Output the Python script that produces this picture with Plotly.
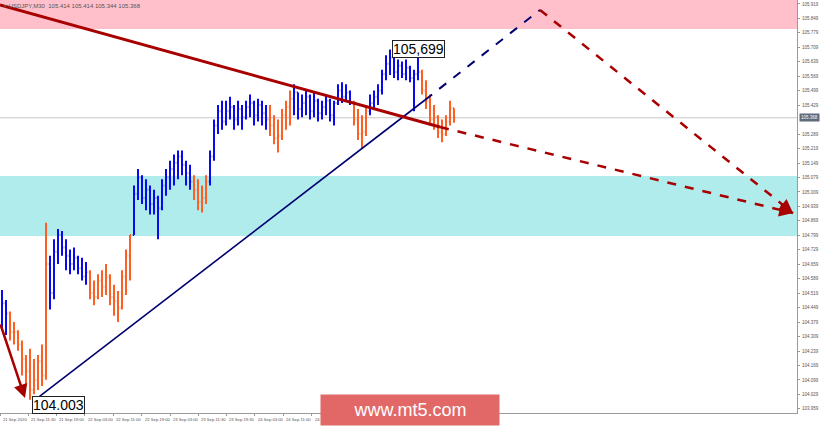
import plotly.graph_objects as go

# ---------------- data (USDJPY, M30) ----------------
opens = [
    104.36, 104.47, 104.42, 104.33, 104.33, 104.27, 104.20, 104.14, 104.05, 104.10,
    104.19, 104.12, 104.66, 104.52, 104.72, 104.80, 104.74, 104.70, 104.66, 104.69,
    104.64, 104.60, 104.62, 104.52, 104.50, 104.58, 104.55, 104.60, 104.50, 104.48,
    104.45, 104.60, 104.70, 104.80, 105.00, 105.08, 104.98, 105.02, 104.95, 104.98,
    104.93, 105.04, 105.08, 105.12, 105.15, 105.18, 105.14, 105.10, 105.06, 105.02,
    104.96, 104.98, 105.06, 105.18, 105.33, 105.40, 105.35, 105.40, 105.42, 105.36,
    105.41, 105.37, 105.42, 105.44, 105.38, 105.43, 105.39, 105.36, 105.33, 105.27,
    105.28, 105.38, 105.42, 105.46, 105.49, 105.41, 105.44, 105.47, 105.40, 105.45,
    105.39, 105.42, 105.45, 105.38, 105.44, 105.50, 105.47, 105.49, 105.44, 105.36,
    105.29, 105.30, 105.40, 105.44, 105.47, 105.50, 105.58, 105.63, 105.66, 105.59,
    105.62, 105.58, 105.61, 105.56, 105.58, 105.59, 105.50, 105.45, 105.36, 105.37,
    105.30, 105.29, 105.35, 105.414,
]
highs = [
    104.534, 104.486, 104.430, 104.380, 104.340, 104.290, 104.220, 104.250, 104.200, 104.220,
    104.270, 104.860, 104.700, 104.780, 104.830, 104.820, 104.780, 104.730, 104.740, 104.700,
    104.690, 104.670, 104.630, 104.580, 104.610, 104.630, 104.660, 104.610, 104.560, 104.530,
    104.630, 104.730, 104.800, 105.040, 105.120, 105.090, 105.070, 105.040, 105.020, 104.990,
    105.070, 105.120, 105.160, 105.190, 105.210, 105.210, 105.160, 105.140, 105.090, 105.070,
    105.040, 105.090, 105.210, 105.360, 105.430, 105.450, 105.450, 105.470, 105.430, 105.450,
    105.430, 105.450, 105.480, 105.450, 105.460, 105.450, 105.430, 105.430, 105.380, 105.360,
    105.410, 105.450, 105.500, 105.530, 105.490, 105.480, 105.500, 105.480, 105.490, 105.460,
    105.450, 105.480, 105.460, 105.450, 105.530, 105.540, 105.530, 105.500, 105.450, 105.410,
    105.380, 105.430, 105.480, 105.500, 105.530, 105.600, 105.670, 105.699, 105.670, 105.650,
    105.640, 105.650, 105.620, 105.600, 105.690, 105.600, 105.550, 105.480, 105.430, 105.380,
    105.360, 105.380, 105.450, 105.414,
]
lows = [
    104.341, 104.316, 104.290, 104.270, 104.240, 104.120, 104.070, 104.003, 104.030, 104.050,
    104.070, 104.100, 104.440, 104.490, 104.660, 104.700, 104.630, 104.610, 104.630, 104.610,
    104.580, 104.560, 104.490, 104.460, 104.490, 104.500, 104.510, 104.460, 104.410, 104.380,
    104.440, 104.510, 104.580, 104.800, 104.970, 104.950, 104.920, 104.900, 104.900, 104.780,
    104.920, 104.990, 105.020, 105.040, 105.070, 105.090, 105.040, 105.020, 104.970, 104.920,
    104.910, 104.950, 105.040, 105.160, 105.290, 105.310, 105.330, 105.360, 105.310, 105.330,
    105.310, 105.360, 105.370, 105.330, 105.350, 105.330, 105.310, 105.280, 105.240, 105.200,
    105.260, 105.310, 105.330, 105.380, 105.360, 105.370, 105.380, 105.360, 105.370, 105.350,
    105.360, 105.380, 105.350, 105.330, 105.430, 105.440, 105.450, 105.430, 105.330, 105.260,
    105.220, 105.280, 105.380, 105.410, 105.430, 105.480, 105.550, 105.575, 105.560, 105.550,
    105.560, 105.550, 105.540, 105.400, 105.550, 105.480, 105.410, 105.330, 105.310, 105.270,
    105.250, 105.280, 105.330, 105.344,
]
closes = [
    104.47, 104.42, 104.33, 104.33, 104.27, 104.20, 104.14, 104.05, 104.10, 104.19,
    104.12, 104.66, 104.52, 104.72, 104.80, 104.74, 104.70, 104.66, 104.69, 104.64,
    104.60, 104.62, 104.52, 104.50, 104.58, 104.55, 104.60, 104.50, 104.48, 104.45,
    104.60, 104.70, 104.80, 105.00, 105.08, 104.98, 105.02, 104.95, 104.98, 104.93,
    105.04, 105.08, 105.12, 105.15, 105.18, 105.14, 105.10, 105.06, 105.02, 104.96,
    104.98, 105.06, 105.18, 105.33, 105.40, 105.35, 105.40, 105.42, 105.36, 105.41,
    105.37, 105.42, 105.44, 105.38, 105.43, 105.39, 105.36, 105.33, 105.27, 105.28,
    105.38, 105.42, 105.46, 105.49, 105.41, 105.44, 105.47, 105.40, 105.45, 105.39,
    105.42, 105.45, 105.38, 105.44, 105.50, 105.47, 105.49, 105.44, 105.36, 105.29,
    105.30, 105.40, 105.44, 105.47, 105.50, 105.58, 105.63, 105.66, 105.59, 105.62,
    105.58, 105.61, 105.56, 105.58, 105.59, 105.50, 105.45, 105.36, 105.37, 105.30,
    105.29, 105.35, 105.414, 105.368,
]
# wave direction of consecutive bar groups: (direction, number of bars)
wave_groups = [("up", 2), ("down", 10), ("up", 10), ("down", 11), ("up", 15), ("down", 4),
               ("up", 15), ("down", 6), ("up", 15), ("down", 4), ("up", 13), ("down", 9)]

time_labels = ["21 Sep 2020", "21 Sep 11:30", "21 Sep 19:00", "22 Sep 03:00", "22 Sep 11:00",
               "22 Sep 19:00", "23 Sep 03:00", "23 Sep 11:30", "23 Sep 19:30", "24 Sep 03:00",
               "24 Sep 11:00", "24 S"]
time_label_bars = [-0.5, 6.6, 13.6, 20.7, 27.8, 34.9, 42.0, 49.0, 56.1, 63.2, 70.3, 77.4]

# scale labels (105.359 sits under the current-price tag and is not visible)
price_labels = ["105.919", "105.849", "105.779", "105.709", "105.639", "105.569", "105.499",
                "105.429", "105.289", "105.219", "105.149", "105.079", "105.009",
                "104.939", "104.869", "104.799", "104.729", "104.659", "104.589", "104.519",
                "104.449", "104.379", "104.309", "104.239", "104.169", "104.099", "104.029",
                "103.959"]

symbol_title = "USDJPY,M30  105.414 105.414 105.344 105.368"
current_price = 105.368
resistance_zone = (105.798, 106.2)
support_zone = (104.796, 105.086)
wave_high = ("105,699", 97.5, 105.699)
wave_low = ("104.003", 7.5, 103.978)

# analysis drawings (bar index, price)
red_trend = [(-0.5, 105.914), (109.5, 105.323)]
red_trend_forecast = [(109.5, 105.323), (197.75, 104.907)]
navy_trend = [(8.25, 104.002), (105.75, 105.454)]
navy_forecast = [(105.75, 105.454), (134.5, 105.890)]
red_forecast_2 = [(134.5, 105.890), (197.75, 104.907)]
red_first_wave = [(-0.5, 104.375), (5.75, 104.011)]

# ---------------- figure ----------------
BLUE = "#0a0af0"
ORANGE = "#ff5f22"
RED = "#a80000"
NAVY = "#000070"

fig = go.Figure()

idx = 0
for direction, n in wave_groups:
    sl = slice(idx, idx + n)
    col = BLUE if direction == "up" else ORANGE
    fig.add_trace(go.Ohlc(
        x=list(range(idx, idx + n)),
        open=opens[sl], high=highs[sl], low=lows[sl], close=closes[sl],
        increasing=dict(line=dict(color=col, width=2)),
        decreasing=dict(line=dict(color=col, width=2)),
        tickwidth=0.3, hoverinfo="skip", showlegend=False,
    ))
    idx += n

shapes = []
# zones
shapes.append(dict(type="rect", xref="paper", x0=0, x1=1, yref="y",
                   y0=resistance_zone[0], y1=resistance_zone[1],
                   fillcolor="#ffc0cb", line=dict(width=0), layer="below"))
shapes.append(dict(type="rect", xref="paper", x0=0, x1=1, yref="y",
                   y0=support_zone[0], y1=support_zone[1],
                   fillcolor="#b0ecec", line=dict(width=0), layer="below"))
shapes.append(dict(type="line", xref="paper", x0=0, x1=1, yref="y",
                   y0=current_price, y1=current_price,
                   line=dict(color="#c8c8c8", width=1), layer="below"))


def seg(pts, color, width, dash="solid"):
    (xa, ya), (xb, yb) = pts
    return dict(type="line", xref="x", yref="y", x0=xa, y0=ya, x1=xb, y1=yb,
                line=dict(color=color, width=width, dash=dash), layer="above")


shapes.append(seg(navy_trend, NAVY, 1.6))
shapes.append(seg(navy_forecast, NAVY, 2, "dash"))
shapes.append(seg(red_trend, RED, 3))
shapes.append(seg(red_trend_forecast, RED, 2.5, "dash"))
shapes.append(seg(red_forecast_2, RED, 2.5, "dash"))

annotations = []


def arrow_head(pts, color, width, frac):
    (xa, ya), (xb, yb) = pts
    return dict(x=xb, y=yb, ax=xb - (xb - xa) * frac, ay=yb - (yb - ya) * frac,
                xref="x", yref="y", axref="x", ayref="y", text="", showarrow=True,
                arrowhead=2, arrowsize=1.1, arrowwidth=width, arrowcolor=color, standoff=0)


annotations.append(arrow_head(red_first_wave, RED, 2.5, 1.0))
annotations.append(arrow_head(red_trend_forecast, RED, 2.5, 0.04))
annotations.append(arrow_head(red_forecast_2, RED, 2.5, 0.05))

# wave labels
for text, bx, py in (wave_high, wave_low):
    annotations.append(dict(x=bx, y=py, xref="x", yref="y", text=text, showarrow=False,
                            xanchor="left", yanchor="middle",
                            font=dict(family="Liberation Sans", size=14, color="black"),
                            bgcolor="white", bordercolor="#222", borderwidth=1, borderpad=0))

# time labels
for t, bx in zip(time_labels, time_label_bars):
    annotations.append(dict(x=bx, y=0, xref="x", yref="paper", text=t, showarrow=False,
                            xanchor="left", yanchor="top", xshift=1, yshift=-2,
                            font=dict(family="Liberation Sans", size=4.2, color="#555")))

# title
annotations.append(dict(x=0, y=1, xref="paper", yref="paper", xanchor="left", yanchor="top",
                        xshift=2, yshift=-1, showarrow=False,
                        text="\u25be " + symbol_title,
                        font=dict(family="Liberation Sans", size=6, color="#555")))

# current price tag
annotations.append(dict(x=1, y=current_price, xref="paper", yref="y", xanchor="left",
                        yanchor="middle", xshift=2, showarrow=False, text=f"{current_price:.3f}",
                        bgcolor="#5f6b7c", font=dict(family="Liberation Sans", size=4.5, color="white"),
                        borderpad=1))

# watermark
annotations.append(dict(x=0.5144, y=0.0073, xref="paper", yref="paper", xanchor="center",
                        yanchor="middle", showarrow=False, text="www.mt5.com",
                        width=176, height=28, bgcolor="#e26868",
                        font=dict(family="Liberation Sans", size=18, color="white")))

fig.update_layout(
    width=820, height=426,
    margin=dict(l=0, r=23, t=0, b=13, pad=0, autoexpand=False),
    paper_bgcolor="white", plot_bgcolor="white",
    shapes=shapes, annotations=annotations,
    showlegend=False,
    xaxis=dict(range=[-0.5, 198.75], showgrid=False, zeroline=False,
               showline=True, linecolor="#9a9a9a", linewidth=1,
               tickvals=time_label_bars, ticktext=[""] * len(time_label_bars),
               ticks="outside", ticklen=2, tickcolor="#9a9a9a",
               rangeslider=dict(visible=False), fixedrange=True, automargin=False),
    yaxis=dict(range=[103.939, 105.938], side="right", showgrid=False, zeroline=False,
               showline=True, linecolor="#9a9a9a", linewidth=1,
               tickvals=[float(p) for p in price_labels], ticktext=price_labels,
               ticks="outside", ticklen=2, tickcolor="#9a9a9a", ticklabelstandoff=1,
               tickfont=dict(family="Liberation Sans", size=4.5, color="#555"),
               fixedrange=True, automargin=False),
)

fig.write_html(
    "out.html",
    config={"displayModeBar": False, "staticPlot": True},
    post_script="document.body.style.margin='0';document.body.style.overflow='hidden';",
)
